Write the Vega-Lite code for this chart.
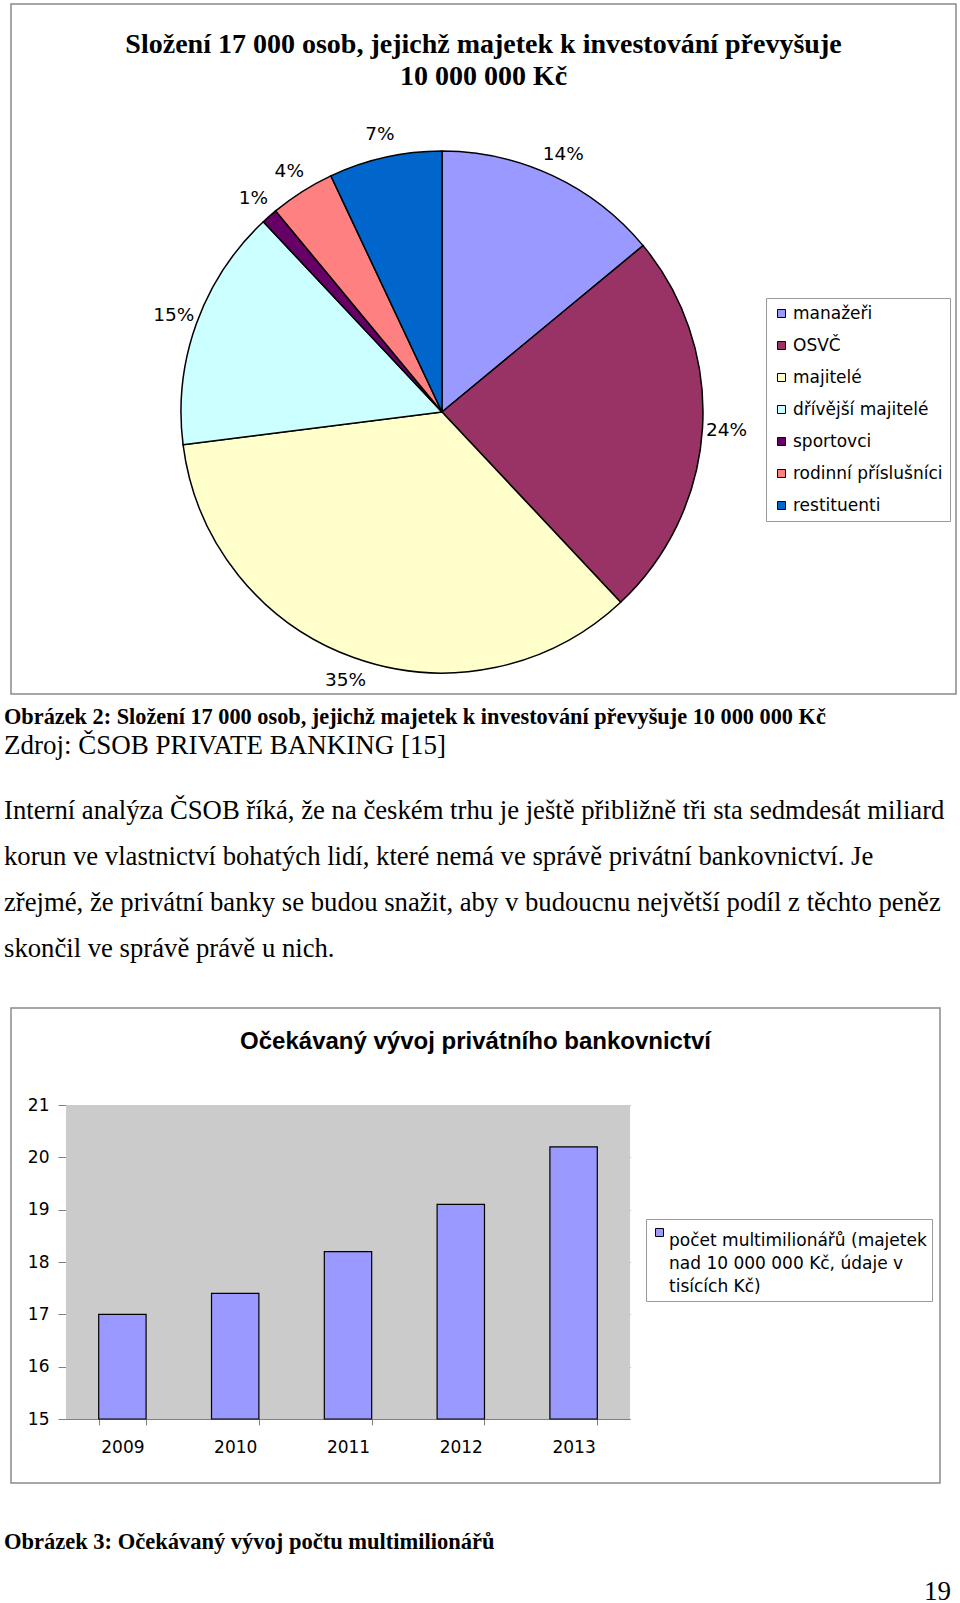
{
  "$schema": "https://vega.github.io/schema/vega-lite/v6.json",
  "padding": {"left": 4, "top": 3, "right": 0, "bottom": 0},
  "autosize": {"type": "pad"},
  "bounds": "flush",
  "spacing": 0,
  "resolve": {"scale": {"color": "independent"}, "legend": {"color": "independent"}},
  "config": {
    "font": "DejaVu Sans",
    "view": {"stroke": "#8a8a8a", "strokeWidth": 1.5},
    "style": {"guide-label": {"lineHeight": 23.3}}
  },
  "datasets": {
    "slozeni": [
      {"kategorie": "manažeři", "podil": 0.14, "poradi": 1},
      {"kategorie": "OSVČ", "podil": 0.24, "poradi": 2},
      {"kategorie": "majitelé", "podil": 0.35, "poradi": 3},
      {"kategorie": "dřívější majitelé", "podil": 0.15, "poradi": 4},
      {"kategorie": "sportovci", "podil": 0.01, "poradi": 5},
      {"kategorie": "rodinní příslušníci", "podil": 0.04, "poradi": 6},
      {"kategorie": "restituenti", "podil": 0.07, "poradi": 7}
    ],
    "vyvoj": [
      {"rok": "2009", "pocet": 17.0, "serie": "počet multimilionářů (majetek nad 10 000 000 Kč, údaje v tisících Kč)"},
      {"rok": "2010", "pocet": 17.4, "serie": "počet multimilionářů (majetek nad 10 000 000 Kč, údaje v tisících Kč)"},
      {"rok": "2011", "pocet": 18.2, "serie": "počet multimilionářů (majetek nad 10 000 000 Kč, údaje v tisících Kč)"},
      {"rok": "2012", "pocet": 19.1, "serie": "počet multimilionářů (majetek nad 10 000 000 Kč, údaje v tisících Kč)"},
      {"rok": "2013", "pocet": 20.2, "serie": "počet multimilionářů (majetek nad 10 000 000 Kč, údaje v tisících Kč)"}
    ]
  },
  "vconcat": [
    {
      "width": 945,
      "height": 690,
      "view": {"stroke": "#8a8a8a", "strokeWidth": 1.5},
      "data": {"name": "slozeni"},
      "title": {
        "text": ["Složení 17 000 osob, jejichž majetek k investování převyšuje", "10 000 000 Kč"],
        "font": "Liberation Serif", "fontSize": 28, "fontWeight": "bold", "color": "black",
        "lineHeight": 32, "anchor": "middle", "frame": "group", "offset": -87
      },
      "encoding": {
        "theta": {"field": "podil", "type": "quantitative", "stack": true},
        "order": {"field": "poradi", "type": "quantitative"}
      },
      "layer": [
        {
          "mark": {"type": "arc", "radius": 261, "x": 431, "y": 408, "stroke": "black", "strokeWidth": 1.5},
          "encoding": {
            "color": {
              "field": "kategorie", "type": "nominal",
              "scale": {
                "domain": ["manažeři", "OSVČ", "majitelé", "dřívější majitelé", "sportovci", "rodinní příslušníci", "restituenti"],
                "range": ["#9999FF", "#993366", "#FFFFCC", "#CCFFFF", "#660066", "#FF8080", "#0066CC"]
              },
              "legend": {
                "title": null, "orient": "none", "legendX": 755, "legendY": 294,
                "direction": "vertical", "symbolType": "square", "symbolSize": 64,
                "symbolStrokeColor": "black", "symbolStrokeWidth": 1,
                "labelFont": "DejaVu Sans", "labelFontSize": 17, "labelColor": "black",
                "fillColor": "white", "strokeColor": "#9a9a9a", "padding": 7,
                "rowPadding": 14, "labelOffset": 3, "labelLimit": 250
              }
            }
          }
        },
        {
          "mark": {"type": "text", "radius": 285, "x": 431, "y": 408, "font": "DejaVu Sans", "fontSize": 18.5, "color": "black"},
          "encoding": {
            "text": {"field": "podil", "type": "quantitative", "format": ".0%"}
          }
        }
      ]
    },
    {
      "width": 945, "height": 37,
      "view": {"stroke": null},
      "data": {"values": []},
      "mark": "text",
      "title": {
        "text": "Obrázek 2: Složení 17 000 osob, jejichž majetek k investování převyšuje 10 000 000 Kč",
        "font": "Liberation Serif", "fontSize": 22.3, "fontWeight": "bold", "color": "black",
        "anchor": "start", "frame": "group", "dx": -7, "offset": -34.7
      }
    },
    {
      "width": 945, "height": 30,
      "view": {"stroke": null},
      "data": {"values": []},
      "mark": "text",
      "title": {
        "text": "Zdroj: ČSOB PRIVATE BANKING [15]",
        "font": "Liberation Serif", "fontSize": 27, "fontWeight": "normal", "color": "black",
        "anchor": "start", "frame": "group", "dx": -7, "offset": -28.6
      }
    },
    {
      "width": 945, "height": 247,
      "view": {"stroke": null},
      "data": {"values": []},
      "mark": "text",
      "title": {
        "text": [
          "Interní analýza ČSOB říká, že na českém trhu je ještě přibližně tři sta sedmdesát miliard",
          "korun ve vlastnictví bohatých lidí, které nemá ve správě privátní bankovnictví. Je",
          "zřejmé, že privátní banky se budou snažit, aby v budoucnu největší podíl z těchto peněz",
          "skončil ve správě právě u nich."
        ],
        "font": "Liberation Serif", "fontSize": 26.7, "fontWeight": "normal", "color": "black",
        "lineHeight": 46, "anchor": "start", "frame": "group", "dx": -7, "offset": -201.6
      }
    },
    {
      "width": 929,
      "height": 475,
      "title": {
        "text": "Očekávaný vývoj privátního bankovnictví",
        "font": "Liberation Sans", "fontSize": 24, "fontWeight": "bold", "color": "black",
        "anchor": "middle", "frame": "group", "offset": -46
      },
      "layer": [
        {
          "data": {"values": [{}]},
          "mark": {"type": "rect", "color": "#CBCBCB"},
          "encoding": {
            "x": {"datum": 0, "type": "quantitative", "scale": {"domain": [0, 1], "range": [55, 619]}, "axis": null},
            "x2": {"datum": 1},
            "y": {"datum": 15, "type": "quantitative"},
            "y2": {"datum": 21}
          }
        },
        {
          "data": {"name": "vyvoj"},
          "mark": {"type": "bar", "stroke": "black", "strokeWidth": 1.2},
          "encoding": {
            "x": {
              "field": "rok", "type": "ordinal",
              "scale": {"range": [55, 619], "paddingInner": 0.58, "paddingOuter": 0.29},
              "axis": {
                "title": null, "offset": -64, "tickBand": "extent", "labelAngle": 0,
                "labelFont": "DejaVu Sans", "labelFontSize": 17, "labelColor": "black",
                "labelPadding": 14.5, "tickSize": 6, "tickColor": "#808080",
                "domainColor": "#808080", "grid": false
              }
            },
            "y": {
              "field": "pocet", "type": "quantitative",
              "scale": {"domain": [15, 21], "range": [411, 97], "nice": false, "zero": false},
              "axis": {
                "title": null, "offset": -55, "values": [15, 16, 17, 18, 19, 20, 21],
                "format": "d", "grid": true, "gridColor": "#808080", "gridWidth": 1,
                "domainColor": "#808080", "tickColor": "#808080", "tickSize": 8,
                "labelPadding": 9, "labelFont": "DejaVu Sans", "labelFontSize": 17,
                "labelColor": "black"
              }
            },
            "y2": {"datum": 15},
            "color": {
              "field": "serie", "type": "nominal",
              "scale": {"range": ["#9999FF"]},
              "legend": {
                "title": null, "orient": "none", "legendX": 635, "legendY": 211,
                "symbolType": "square", "symbolSize": 64,
                "symbolStrokeColor": "black", "symbolStrokeWidth": 1,
                "labelFont": "DejaVu Sans", "labelFontSize": 17, "labelColor": "black",
                "labelBaseline": "top",
                "labelExpr": "['počet multimilionářů (majetek', 'nad 10 000 000 Kč, údaje v', 'tisících Kč)']",
                "fillColor": "white", "strokeColor": "#9a9a9a", "padding": 5,
                "labelOffset": 1, "labelLimit": 400
              }
            }
          }
        }
      ],
      "resolve": {"scale": {"x": "independent"}, "axis": {"x": "independent"}}
    },
    {
      "width": 945, "height": 83,
      "view": {"stroke": null},
      "data": {"values": []},
      "mark": "text",
      "title": {
        "text": "Obrázek 3: Očekávaný vývoj počtu multimilionářů",
        "font": "Liberation Serif", "fontSize": 22.5, "fontWeight": "bold", "color": "black",
        "anchor": "start", "frame": "group", "dx": -7, "offset": -70.7
      }
    },
    {
      "width": 940, "height": 38,
      "view": {"stroke": null},
      "data": {"values": []},
      "mark": "text",
      "title": {
        "text": "19",
        "font": "Liberation Serif", "fontSize": 27, "fontWeight": "normal", "color": "black",
        "anchor": "end", "frame": "group", "offset": -39.7
      }
    }
  ]
}
